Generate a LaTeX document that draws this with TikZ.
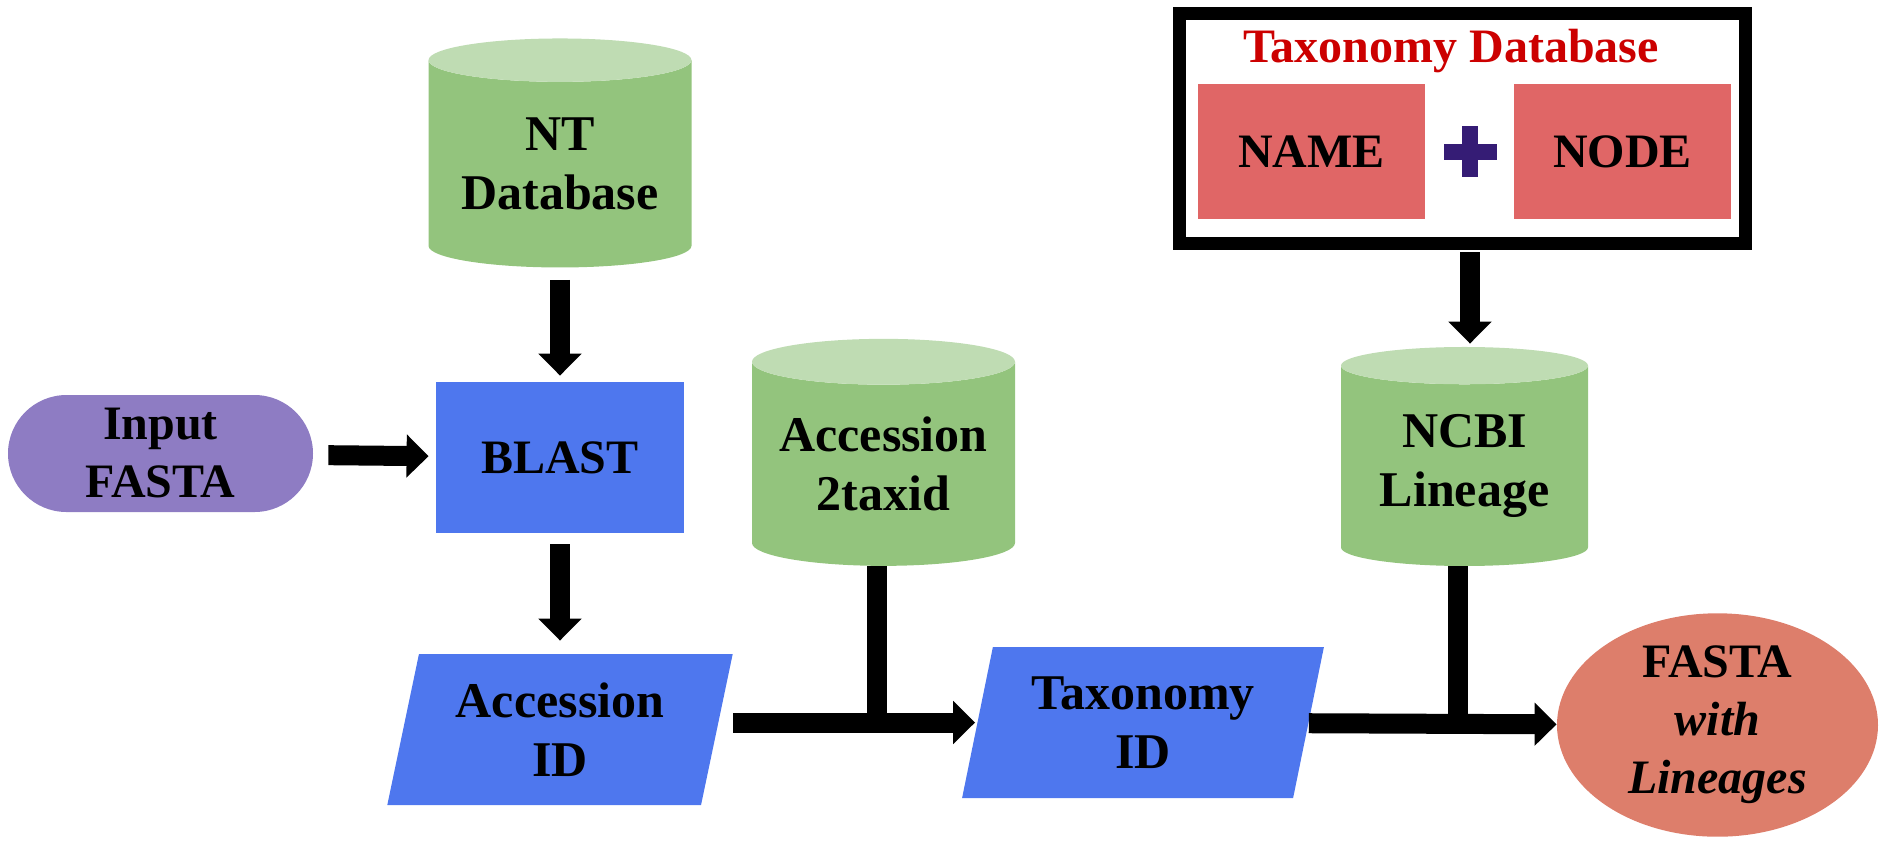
\documentclass[tikz,border=0pt]{standalone}
\usepackage{fontspec}
\setmainfont{Liberation Serif}
\usetikzlibrary{shapes.geometric,shapes.misc,arrows.meta}

\definecolor{inpurple}{HTML}{8E7CC3}
\definecolor{procblue}{HTML}{4E77EE}
\definecolor{dbgreen}{HTML}{93C47D}
\definecolor{dbtop}{HTML}{BFDCB3}
\definecolor{taxred}{HTML}{E06666}
\definecolor{outred}{HTML}{DD7E6B}
\definecolor{titlered}{HTML}{CC0000}
\definecolor{plusviolet}{HTML}{351C75}

\tikzset{
  txt/.style={font=\fontsize{24pt}{29pt}\selectfont\bfseries, align=center, inner sep=0pt},
  bigtxt/.style={font=\fontsize{25pt}{29.5pt}\selectfont\bfseries, align=center, inner sep=0pt},
  stadium/.style={txt, rounded rectangle, fill=inpurple, minimum width=152.5pt, minimum height=58.5pt},
  process/.style={txt, rectangle, fill=procblue, minimum width=124pt, minimum height=75.5pt},
  dbase/.style={bigtxt, cylinder, shape border rotate=90, aspect=0.22,
    cylinder uses custom fill, cylinder body fill=dbgreen, cylinder end fill=dbtop},
  ioshape/.style={bigtxt, trapezium, trapezium left angle=76, trapezium right angle=104,
    trapezium stretches=true, fill=procblue, minimum height=75.5pt},
  result/.style={txt, ellipse, fill=outred, minimum width=160.5pt, minimum height=109.5pt},
  taxfile/.style={txt, rectangle, fill=taxred, minimum height=67.5pt},
  arr/.style={line width=10pt, -{Triangle[length=11pt,width=21pt]}},
  joint/.style={line width=10pt}
}

\begin{document}
\begin{tikzpicture}[x=0.5pt,y=-0.5pt]
  \useasboundingbox (0,0) rectangle (1886,843);

  % taxonomy database frame
  \node[draw, line width=6.5pt, minimum width=283pt, minimum height=115pt] (taxdb) at (1462.5,128.5) {};
  \node[txt, text=titlered, anchor=base] (taxtitle) at (1451,62) {Taxonomy Database};
  \node[taxfile, minimum width=113.5pt] (name) at (1311.5,151.5) {NAME};
  \node[taxfile, minimum width=108.5pt] (nodes) at (1622.5,151.5) {NODE};
  \coordinate (plus) at (1470,151.5);
  \fill[plusviolet] (1443.5,143.5) rectangle (1496.5,159.5);
  \fill[plusviolet] (1462,126) rectangle (1478,177);

  % flow
  \node[stadium] (input) at (160.5,453.5) {Input\\FASTA};
  \node[process] (blast) at (560,457.5) {BLAST};
  \node[dbase, minimum width=131.5pt, minimum height=114.5pt] (nt) at (560,164) {NT\\Database};
  \node[dbase, minimum width=131.5pt, minimum height=113.5pt] (acc2tax) at (883.5,464) {Accession\\2taxid};
  \node[dbase, minimum width=123.5pt, minimum height=109.5pt] (ncbi) at (1464.5,466) {NCBI\\Lineage};
  \node[ioshape, minimum width=173pt] (accid) at (560,729.5) {Accession\\ID};
  \node[ioshape, minimum width=181pt] (taxid) at (1143,722.5) {Taxonomy\\ID};
  \node[result] (outfasta) at (1717.5,725) {FASTA\\\textit{with}\\\textit{Lineages}};

  \begin{scope}[every edge/.style={draw, arr}]
    \path (input) edge[shorten <=7.5pt, shorten >=3.5pt] (blast);
    \path (nt) edge[shorten <=6pt, shorten >=3pt] (blast);
    \path (blast) edge[shorten <=5.5pt, shorten >=6.5pt] (accid);
    \path (accid.east |- taxid.west) edge[shorten <=8pt, shorten >=1pt] (taxid.west);
    \path (taxid) edge (outfasta);
    \path (plus |- taxdb.south) edge[shorten <=1pt, shorten >=1.5pt] (plus |- ncbi.north);
  \end{scope}

  \draw[joint] ([xshift=-3.5pt]acc2tax.south) -- ([xshift=-3.5pt]acc2tax.south |- taxid.west);
  \draw[joint] ([xshift=-3.5pt]ncbi.south) -- ([xshift=-3.5pt]ncbi.south |- outfasta.west);

\end{tikzpicture}
\end{document}
